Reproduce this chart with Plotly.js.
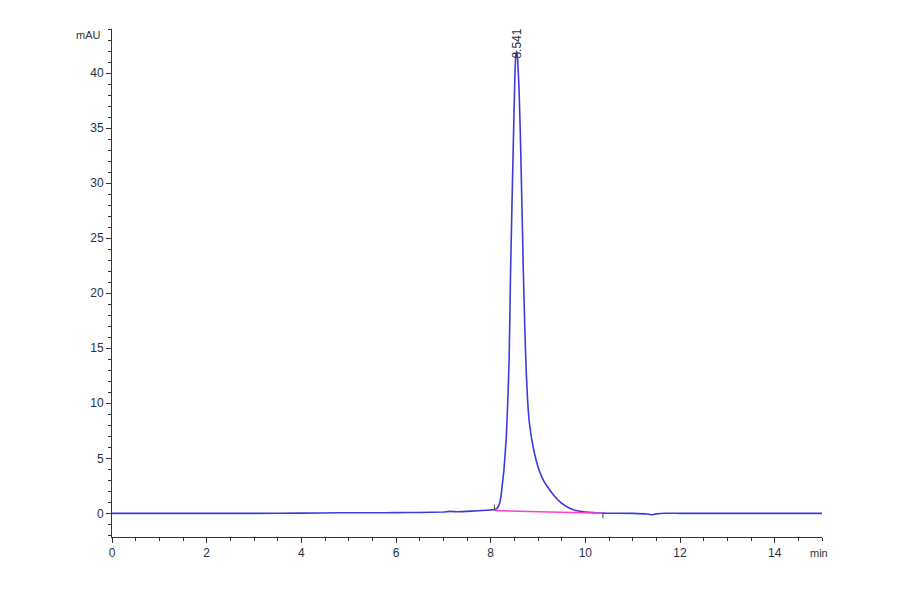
<!DOCTYPE html>
<html>
<head>
<meta charset="utf-8">
<script src="https://cdn.plot.ly/plotly-3.0.1.min.js"></script>
<style>
  html, body { margin: 0; padding: 0; background: #fff; }
  #chart { width: 900px; height: 594px; }
</style>
</head>
<body>
<div id="chart"></div>
<script>
// chromatogram signal (min, mAU)
var timeMin = [0, 1, 2, 3, 4, 4.8, 5.5, 6, 6.5, 7.0, 7.15, 7.3, 7.6, 7.9, 8.05, 8.12, 8.16, 8.19, 8.22, 8.24,
  8.28, 8.33, 8.36, 8.39, 8.42, 8.45, 8.48, 8.51, 8.53, 8.55, 8.57, 8.60, 8.63, 8.66, 8.69, 8.72, 8.75, 8.78,
  8.81, 8.86, 8.91, 8.96, 9.03, 9.12, 9.21, 9.35, 9.49, 9.65, 9.8, 10.0, 10.4, 11.0, 11.3, 11.4, 11.5, 11.7,
  12, 13, 14, 15];
var signalMAU = [0, 0, 0, 0, 0.02, 0.05, 0.05, 0.06, 0.08, 0.12, 0.18, 0.14, 0.2, 0.28, 0.32, 0.4, 0.6, 0.94, 1.6, 2.4,
  3.9, 6.9, 10, 14, 21.9, 28, 33.9, 39.5, 41.5, 42.0, 41.2, 38.5, 33.9, 28, 22, 17, 13, 10.3,
  8.5, 6.9, 5.75, 4.85, 3.85, 2.95, 2.35, 1.55, 0.94, 0.5, 0.25, 0.12, 0.02, 0, -0.06, -0.13, -0.05, 0.01,
  0, 0, 0, 0];

// integration baseline
var baseTime = [8.08, 10.37];
var baseMAU = [0.25, 0.0];

var peakTime = 8.55;
var peakHeight = 42.0;
var peakLabel = "8.541";

var blue = "#3b3bdc";
var pink = "#ff3fd2";
var axisCol = "#333333";

var traces = [
  {
    x: timeMin, y: signalMAU, type: "scatter", mode: "lines",
    line: { color: blue, width: 1.6, shape: "spline", smoothing: 0.3 },
    hoverinfo: "skip"
  },
  {
    x: baseTime, y: baseMAU, type: "scatter", mode: "lines",
    line: { color: pink, width: 1.5 }, hoverinfo: "skip"
  },
  // start / end marks of the integration
  {
    x: [baseTime[0], baseTime[0]], y: [baseMAU[0], baseMAU[0] + 0.55], type: "scatter", mode: "lines",
    line: { color: "#444", width: 1 }, hoverinfo: "skip"
  },
  {
    x: [baseTime[1], baseTime[1]], y: [baseMAU[1], baseMAU[1] - 0.45], type: "scatter", mode: "lines",
    line: { color: "#444", width: 1 }, hoverinfo: "skip"
  }
];

var fontFam = "Liberation Sans Narrow, Liberation Sans, Arial, sans-serif";
var tickFont = { family: fontFam, size: 12, color: "#283040" };

var layout = {
  width: 900, height: 594,
  margin: { l: 112, r: 78, t: 29, b: 57 },
  paper_bgcolor: "#fff", plot_bgcolor: "#fff",
  showlegend: false,
  xaxis: {
    range: [0, 15], dtick: 2, tick0: 0,
    showline: true, linecolor: axisCol, linewidth: 1,
    ticks: "outside", ticklen: 5, tickcolor: axisCol,
    minor: { dtick: 0.5, ticks: "outside", ticklen: 3, tickcolor: axisCol },
    showgrid: false, zeroline: false, tickfont: tickFont
  },
  yaxis: {
    range: [-2.15, 44], dtick: 5, tick0: 0,
    showline: true, linecolor: axisCol, linewidth: 1,
    ticks: "outside", ticklen: 5, tickcolor: axisCol,
    minor: { dtick: 1, ticks: "outside", ticklen: 3, tickcolor: axisCol },
    showgrid: false, zeroline: false, tickfont: tickFont
  },
  annotations: [
    {
      x: peakTime, y: peakHeight - 0.9, xref: "x", yref: "y",
      text: peakLabel, textangle: -90, showarrow: false,
      xanchor: "center", yanchor: "bottom",
      font: { family: fontFam, size: 12, color: "#333" }
    },
    {
      x: -0.012, y: 0.988, xref: "paper", yref: "paper",
      text: "mAU", showarrow: false, xanchor: "right", yanchor: "middle",
      font: { family: fontFam, size: 11, color: "#333" }
    },
    {
      x: 0.98, y: -0.031, xref: "paper", yref: "paper",
      text: "min", showarrow: false, xanchor: "left", yanchor: "middle",
      font: { family: fontFam, size: 11, color: "#333" }
    }
  ]
};

Plotly.newPlot("chart", traces, layout, { displayModeBar: false, staticPlot: true });
</script>
</body>
</html>
